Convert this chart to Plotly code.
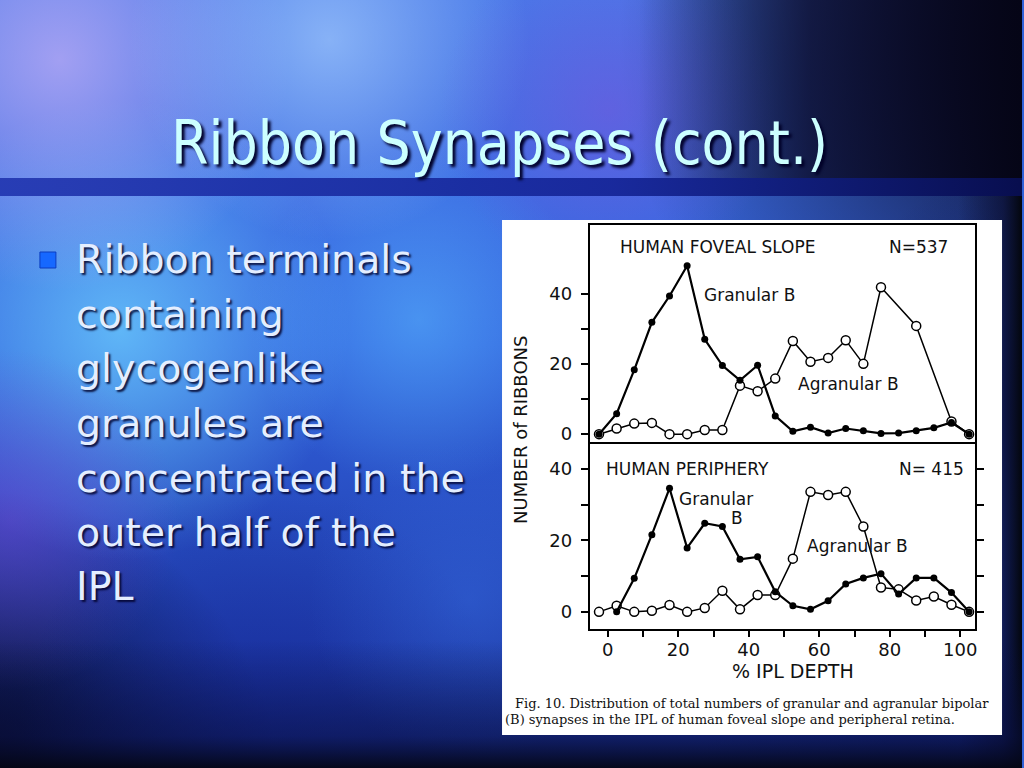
import numpy as np
import plotly.graph_objects as go

# ---------------- data ----------------
ipl_depth = [-2.5, 2.5, 7.5, 12.5, 17.5, 22.5, 27.5, 32.5, 37.5, 42.5, 47.5,
             52.5, 57.5, 62.5, 67.5, 72.5, 77.5, 82.5, 87.5, 92.5, 97.5, 102.5]

foveal_granular = [0, 5.8, 18.3, 31.8, 39.3, 47.9, 27.0, 19.5, 15.3, 19.6, 5.2,
                   0.8, 2.0, 0.3, 1.6, 1.0, 0.2, 0.3, 1.0, 1.8, 3.3, 0]
foveal_agranular = [0, 1.6, 3.0, 3.2, 0, 0, 1.2, 1.2, 13.8, 12.2, 15.8,
                    26.5, 20.6, 21.7, 26.7, 20.0, 41.8, None, 30.8, None, 3.6, 0]

periphery_granular = [None, 0, 9.4, 21.6, 34.6, 17.9, 24.8, 23.9, 14.7, 15.4, 5.6,
                      1.7, 0.7, 3.1, 7.8, 9.5, 10.7, 5.0, 9.5, 9.5, 5.4, 0]
periphery_agranular = [0, 1.7, 0, 0.3, 1.9, 0, 1.1, 5.9, 0.7, 4.7, 4.7,
                       14.9, 33.6, 32.7, 33.6, 23.9, 6.8, 6.3, 3.2, 4.3, 2.0, 0]

x_tickvals = [0, 10, 20, 30, 40, 50, 60, 70, 80, 90, 100]
x_ticktext = ["0", "", "20", "", "40", "", "60", "", "80", "", "100"]
y_tickvals = [0, 10, 20, 30, 40]
y_ticktext = ["0", "", "20", "", "40"]

slide_title = "Ribbon Synapses (cont.)"
bullet_lines = ["Ribbon terminals", "containing", "glycogenlike", "granules are",
                "concentrated in the", "outer half of the", "IPL"]
caption_lines = ["Fig. 10. Distribution of total numbers of granular and agranular bipolar",
                 "(B) synapses in the IPL of human foveal slope and peripheral retina."]

# ---------------- layout helpers ----------------
W, H = 1024, 768
def px(x):
    return x / W
def py(y):
    return 1 - y / H

fig = go.Figure()

# ---------- slide background (decorative, drawn on a full-page subplot) ----------
def rect(x0, y0, x1, y1):
    return [x0, x1, x1, x0, x0], [y0, y0, y1, y1, y0]

def grad_rect(x0, y0, x1, y1, kind, scale):
    gx, gy = rect(x0, y0, x1, y1)
    fig.add_trace(go.Scatter(x=gx, y=gy, mode="lines", fill="toself", line=dict(width=0),
                             hoverinfo="skip", showlegend=False,
                             fillgradient=dict(type=kind, colorscale=scale),
                             xaxis="x", yaxis="y"))

# vertical gradients: colorscale 0 = bottom of the rectangle on screen
grad_rect(0, 0, W, H, "vertical",
          [[0, "rgb(24,46,150)"], [0.55, "rgb(50,98,222)"], [1, "rgb(72,120,232)"]])

blobs = [
    (1060, 40, 440, "8,8,36", 1.0),
    (1060, 420, 260, "12,20,80", 0.8),
    (-20, 790, 300, "6,6,30", 1.0),
    (960, 790, 260, "14,28,110", 0.6),
    (120, 330, 230, "110,210,255", 0.75),
    (420, 320, 170, "90,185,255", 0.55),
    (60, 60, 230, "185,170,245", 0.8),
    (330, 40, 200, "170,210,255", 0.65),
    (610, 110, 170, "120,85,220", 0.55),
    (10, 520, 170, "110,70,210", 0.55),
    (260, 720, 240, "20,36,150", 0.5),
    (470, 600, 160, "60,120,240", 0.35),
]
theta = np.linspace(0, 2 * np.pi, 73)
for cx, cy, r, rgb, a in blobs:
    fig.add_trace(go.Scatter(
        x=cx + r * np.cos(theta), y=cy + r * np.sin(theta), mode="lines",
        fill="toself", line=dict(width=0), hoverinfo="skip", showlegend=False,
        fillgradient=dict(type="radial",
                          colorscale=[[0, f"rgba({rgb},{a})"], [1, f"rgba({rgb},0)"]]),
        xaxis="x", yaxis="y"))

# darkening of the upper right, right edge and bottom
grad_rect(640, 0, W, 178, "horizontal",
          [[0, "rgba(10,10,40,0)"], [0.45, "rgba(10,10,40,0.75)"], [1, "rgba(5,5,22,1)"]])
grad_rect(960, 178, W, H, "horizontal",
          [[0, "rgba(8,10,40,0)"], [0.7, "rgba(8,10,40,0.6)"], [1, "rgba(3,6,12,1)"]])
grad_rect(0, 640, W, H, "vertical",
          [[0, "rgba(4,6,20,0.95)"], [0.25, "rgba(8,14,60,0.55)"], [1, "rgba(8,14,60,0)"]])

# dark band under title
grad_rect(0, 178, W, 196, "horizontal",
          [[0, "rgba(32,52,175,0.9)"], [0.6, "rgba(20,36,150,0.92)"],
           [1, "rgba(8,14,80,0.97)"]])

# white figure card
wx, wy = rect(503, 220, 1004, 735)
fig.add_trace(go.Scatter(x=wx, y=wy, fill="toself", fillcolor="white",
                         line=dict(width=0), mode="lines", hoverinfo="skip",
                         xaxis="x", yaxis="y", showlegend=False))

# ---------- chart traces ----------
open_marker = dict(symbol="circle", size=9, color="white", line=dict(color="black", width=1.5))
fill_marker = dict(symbol="circle", size=7, color="black", line=dict(color="black", width=0))

fig.add_trace(go.Scatter(x=ipl_depth, y=foveal_agranular, mode="lines+markers",
                         connectgaps=True, line=dict(color="black", width=1.5),
                         marker=open_marker, xaxis="x2", yaxis="y2", showlegend=False))
fig.add_trace(go.Scatter(x=ipl_depth, y=foveal_granular, mode="lines+markers",
                         line=dict(color="black", width=2.2),
                         marker=fill_marker, xaxis="x2", yaxis="y2", showlegend=False))
fig.add_trace(go.Scatter(x=ipl_depth, y=periphery_agranular, mode="lines+markers",
                         line=dict(color="black", width=1.5),
                         marker=open_marker, xaxis="x3", yaxis="y3", showlegend=False))
fig.add_trace(go.Scatter(x=ipl_depth, y=periphery_granular, mode="lines+markers",
                         line=dict(color="black", width=2.2),
                         marker=fill_marker, xaxis="x3", yaxis="y3", showlegend=False))

chart_font = "DejaVu Sans"
tick_font = dict(family=chart_font, size=18, color="#111")
xdom = [px(591), px(977)]
xr = [-5.1, 104.2]

common_x = dict(range=xr, domain=xdom, showgrid=False, zeroline=False,
                showline=True, linecolor="black", linewidth=2, mirror=True,
                ticks="outside", ticklen=6, tickwidth=1.5, tickcolor="black",
                tickvals=x_tickvals, ticktext=x_ticktext, tickfont=tick_font)
common_y = dict(showgrid=False, zeroline=False, showline=True, linecolor="black",
                linewidth=2, ticks="outside", ticklen=7, tickwidth=1.5,
                tickcolor="black", tickvals=y_tickvals, ticktext=y_ticktext,
                tickfont=tick_font, ticklabelstandoff=5)

fig.update_layout(
    width=W, height=H, margin=dict(l=0, r=0, t=0, b=0),
    paper_bgcolor="#3062d8", plot_bgcolor="white", showlegend=False,
    xaxis=dict(domain=[0, 1], range=[0, W], visible=False, fixedrange=True),
    yaxis=dict(domain=[0, 1], range=[H, 0], visible=False, fixedrange=True),
    xaxis2=dict(common_x, anchor="y2", showticklabels=False),
    yaxis2=dict(common_y, anchor="x2", domain=[py(444), py(225)], range=[-2.8, 59.5],
                mirror=True),
    xaxis3=dict(common_x, anchor="y3", showticklabels=True, ticklabelstandoff=-3),
    yaxis3=dict(common_y, anchor="x3", domain=[py(629), py(444)], range=[-4.8, 47],
                mirror="allticks"),
)

ann = []
def label(text, x, y, size=17, xanchor="left", **kw):
    ann.append(dict(text=text, x=px(x), y=py(y), xref="paper", yref="paper",
                    xanchor=xanchor, yanchor="middle", showarrow=False,
                    font=dict(family=chart_font, size=size, color="#111"), **kw))

label("HUMAN FOVEAL SLOPE", 619, 246.5)
label("N=537", 889, 246.5)
label("Granular B", 703, 295)
label("Agranular B", 798, 384)
label("HUMAN PERIPHERY", 605, 469)
label("N= 415", 899, 469)
label("Granular", 678, 499)
label("B", 738, 518, xanchor="center")
label("Agranular B", 807, 545.5)
label("% IPL DEPTH", 795, 671, size=19, xanchor="center")
label("NUMBER of RIBBONS", 521, 430, size=18, xanchor="center", textangle=-90)

cap_font = dict(family="DejaVu Serif", size=13, color="#111")
ann.append(dict(text=caption_lines[0], x=px(514), y=py(703), xref="paper", yref="paper",
                xanchor="left", yanchor="middle", showarrow=False, font=cap_font))
ann.append(dict(text=caption_lines[1], x=px(504), y=py(719), xref="paper", yref="paper",
                xanchor="left", yanchor="middle", showarrow=False, font=cap_font))

# slide title
ann.append(dict(text=slide_title, x=px(500), y=py(143), xref="paper", yref="paper",
                xanchor="center", yanchor="middle", showarrow=False,
                font=dict(family="DejaVu Sans Condensed, DejaVu Sans", size=60,
                          color="#ccffff", shadow="3px 3px 3px #000028")))

# bullet text
baselines = [273, 327.5, 382, 437, 491.5, 545.5, 600]
for line, b in zip(bullet_lines, baselines):
    ann.append(dict(text=line, x=px(74), y=py(b - 14), xref="paper", yref="paper",
                    xanchor="left", yanchor="middle", showarrow=False,
                    font=dict(family="DejaVu Sans", size=39.5, color="#e4eeff",
                              shadow="2px 2px 2px rgba(0,0,40,0.85)")))

fig.update_layout(annotations=ann)
fig.add_shape(type="rect", xref="paper", yref="paper",
              x0=px(40), x1=px(56), y0=py(268), y1=py(252),
              fillcolor="#1668ff", line=dict(color="#0a3cc0", width=1), layer="above")

fig.write_html("out.html", config={"displayModeBar": False},
               post_script="document.body.style.margin='0';")
